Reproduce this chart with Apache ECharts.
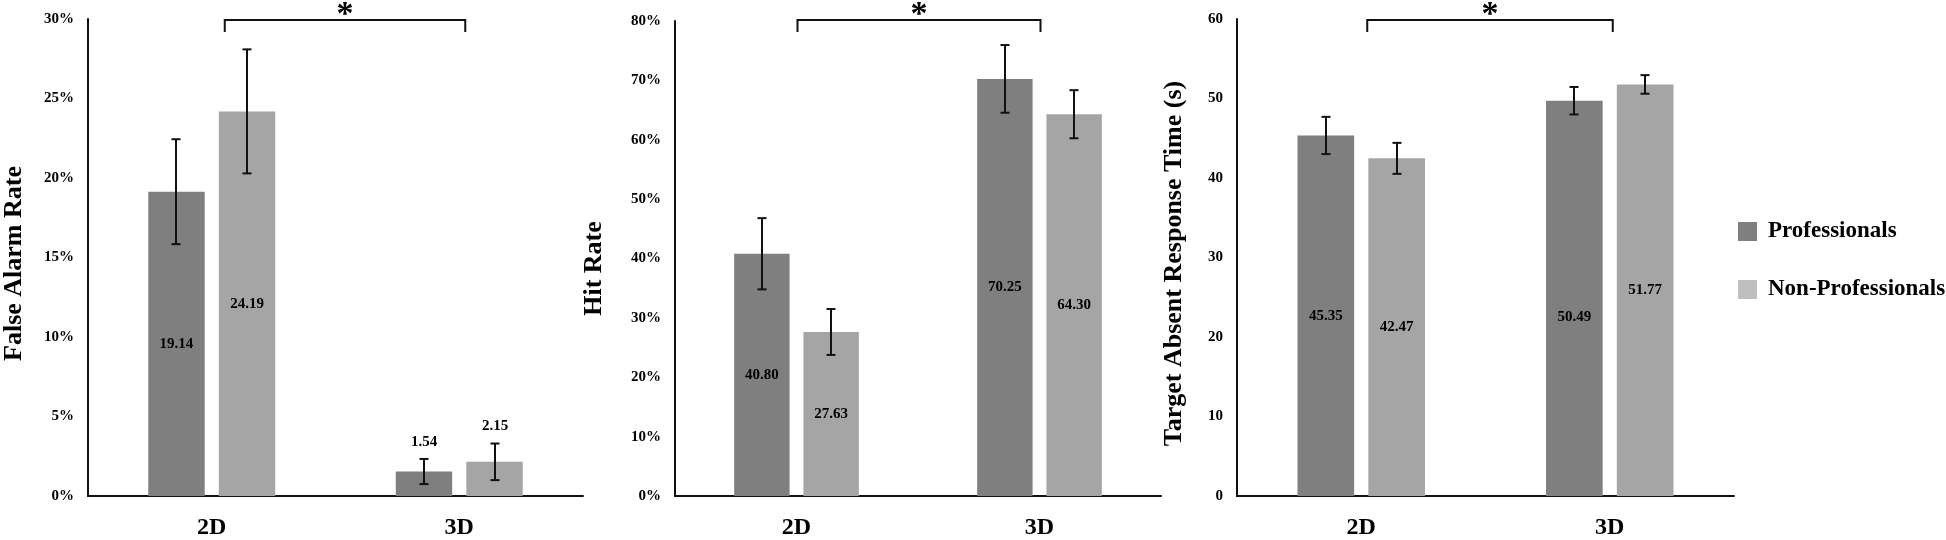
<!DOCTYPE html>
<html><head><meta charset="utf-8">
<script src="https://cdn.jsdelivr.net/npm/echarts@6/dist/echarts.min.js"></script>
<style>html,body{margin:0;padding:0;background:#fff}#c{width:1946px;height:540px}</style>
</head><body><div id="c"></div>
<script>
// ---------- data ----------
const categories = ['2D', '3D'];
const seriesNames = ['Professionals', 'Non-Professionals'];
const yTitles = ['False Alarm Rate', 'Hit Rate', 'Target Absent Response Time (s)'];
const yMax = [30, 80, 60];
const yStep = [5, 10, 10];
const yUnit = ['%', '%', ''];

// False alarm rate (%)
const faPro = [19.14, 1.54];
const faNon = [24.19, 2.15];
const faProErr = [3.3, 0.79];
const faNonErr = [3.9, 1.15];
const faProLabels = ['19.14', '1.54'];
const faNonLabels = ['24.19', '2.15'];

// Hit rate (%)
const hitPro = [40.80, 70.25];
const hitNon = [27.63, 64.30];
const hitProErr = [6.0, 5.7];
const hitNonErr = [3.87, 4.05];
const hitProLabels = ['40.80', '70.25'];
const hitNonLabels = ['27.63', '64.30'];

// Target absent response time (s)
const rtPro = [45.35, 49.72];
const rtNon = [42.47, 51.77];
const rtProErr = [2.34, 1.73];
const rtNonErr = [1.95, 1.17];
const rtProLabels = ['45.35', '50.49'];
const rtNonLabels = ['42.47', '51.77'];

// ---------- layout / style ----------
const FONT = '"Liberation Serif", "Times New Roman", serif';
const barColors = ['#7f7f7f', '#a5a5a5'];
const legendColors = ['#7f7f7f', '#bfbfbf'];
const BAR_W = 0.228, BAR_GAP = 0.25;

const panels = [
  { grid: { left: 83, top: 19, width: 500, height: 479 }, nameGap: 61, namePad: 12,
    vals: [faPro, faNon], errs: [faProErr, faNonErr], labs: [faProLabels, faNonLabels],
    bracket: [13, 6], labelOffset: [[[0,0],[0,0]], [[0,0],[0,0]]] },
  { grid: { left: 675, top: 21, width: 486, height: 477 }, nameGap: 68, namePad: 20,
    vals: [hitPro, hitNon], errs: [hitProErr, hitNonErr], labs: [hitProLabels, hitNonLabels],
    bracket: [1, 1], labelOffset: [[[0,0],[0,0]], [[0,0],[0,0]]] },
  { grid: { left: 1237, top: 19, width: 497, height: 479 }, nameGap: 50, namePad: 12,
    vals: [rtPro, rtNon], errs: [rtProErr, rtNonErr], labs: [rtProLabels, rtNonLabels],
    bracket: [6, 3], labelOffset: [[[0,0],[0,19]], [[0,0],[0,0]]] }
];

const grids = [], xAxes = [], yAxes = [], series = [];

panels.forEach((p, i) => {
  grids.push(Object.assign({ containLabel: false }, p.grid));
  xAxes.push({
    type: 'category', gridIndex: i, data: categories,
    axisLine: { show: true, lineStyle: { color: '#111', width: 2 } },
    axisTick: { show: false },
    axisLabel: { color: '#000', fontFamily: FONT, fontWeight: 'bold', fontSize: 24, margin: 20 }
  });
  yAxes.push({
    type: 'value', gridIndex: i, min: 0, max: yMax[i], interval: yStep[i],
    name: yTitles[i], nameLocation: 'middle', nameGap: p.nameGap, nameRotate: 90,
    nameTextStyle: { color: '#000', fontFamily: FONT, fontWeight: 'bold', fontSize: 26,
                     padding: [0, p.namePad, 0, 0] },
    axisLine: { show: true, lineStyle: { color: '#111', width: 2 } },
    axisTick: { show: false },
    splitLine: { show: false },
    axisLabel: { color: '#000', fontFamily: FONT, fontWeight: 'bold', fontSize: 15, margin: 14,
                 formatter: '{value}' + yUnit[i] }
  });

  const errRows = [];
  [0, 1].forEach(s => {
    const vals = p.vals[s];
    series.push({
      type: 'bar', name: seriesNames[s], xAxisIndex: i, yAxisIndex: i,
      barWidth: (BAR_W * 100) + '%', barGap: (BAR_GAP * 100) + '%',
      itemStyle: { color: barColors[s] },
      silent: true,
      label: { show: true, position: 'inside', color: '#000', fontFamily: FONT,
               fontWeight: 'bold', fontSize: 15 },
      data: vals.map((v, j) => {
        const outside = v < yMax[i] * 0.12;
        errRows.push([j, s, v, p.errs[s][j], outside ? 1 : 0]);
        return {
          value: v,
          label: outside ? { show: false } :
            { show: true, formatter: p.labs[s][j], offset: p.labelOffset[s][j] }
        };
      })
    });
  });

  // error bars (+ labels above small bars)
  const labs = p.labs;
  series.push({
    type: 'custom', xAxisIndex: i, yAxisIndex: i, silent: true, clip: false, z: 5,
    data: errRows,
    renderItem: (params, api) => {
      const c = api.value(0), s = api.value(1), v = api.value(2), e = api.value(3), out = api.value(4);
      const band = api.size([1, 0])[0];
      const off = band * BAR_W * (1 + BAR_GAP) / 2 * (s === 0 ? -1 : 1);
      const t = api.coord([c, v + e]), b = api.coord([c, v - e]);
      const x = Math.round(t[0] + off);
      const cap = 4.5;
      const st = { stroke: '#111', lineWidth: 2 };
      const ch = [
        { type: 'line', shape: { x1: x, y1: t[1], x2: x, y2: b[1] }, style: st },
        { type: 'line', shape: { x1: x - cap, y1: t[1], x2: x + cap, y2: t[1] }, style: st },
        { type: 'line', shape: { x1: x - cap, y1: b[1], x2: x + cap, y2: b[1] }, style: st }
      ];
      if (out) {
        ch.push({ type: 'text', x: x, y: t[1] - 17,
          style: { text: labs[s][c], fill: '#000', font: 'bold 15px ' + FONT,
                   align: 'center', verticalAlign: 'middle' } });
      }
      return { type: 'group', children: ch };
    }
  });

  // significance bracket
  const nb = p.bracket;
  series.push({
    type: 'custom', xAxisIndex: i, yAxisIndex: i, silent: true, clip: false, z: 6,
    data: [[0, 1]],
    renderItem: (params, api) => {
      const a = api.coord([api.value(0), yMax[i]]);
      const b = api.coord([api.value(1), yMax[i]]);
      const y = 20;
      const l = a[0] + nb[0], r = b[0] + nb[1];
      return { type: 'group', children: [
        { type: 'polyline', shape: { points: [[l, y + 12], [l, y], [r, y], [r, y + 12]] },
          style: { stroke: '#111', lineWidth: 2, fill: null } },
        { type: 'text', x: (l + r) / 2, y: 15,
          style: { text: '*', fill: '#000', font: 'bold 34px ' + FONT,
                   align: 'center', verticalAlign: 'middle' } }
      ] };
    }
  });
});

const chart = echarts.init(document.getElementById('c'), null, { renderer: 'canvas' });
chart.setOption({
  animation: false,
  backgroundColor: '#fff',
  grid: grids, xAxis: xAxes, yAxis: yAxes, series: series,
  legend: {
    orient: 'vertical', left: 1733, top: 215, itemWidth: 19, itemHeight: 19, itemGap: 35,
    icon: 'rect', selectedMode: false,
    textStyle: { color: '#000', fontFamily: FONT, fontWeight: 'bold', fontSize: 23, padding: [0, 0, 0, 6] },
    data: seriesNames.map((n, k) => ({ name: n, itemStyle: { color: legendColors[k] } }))
  }
});
</script>
</body></html>
